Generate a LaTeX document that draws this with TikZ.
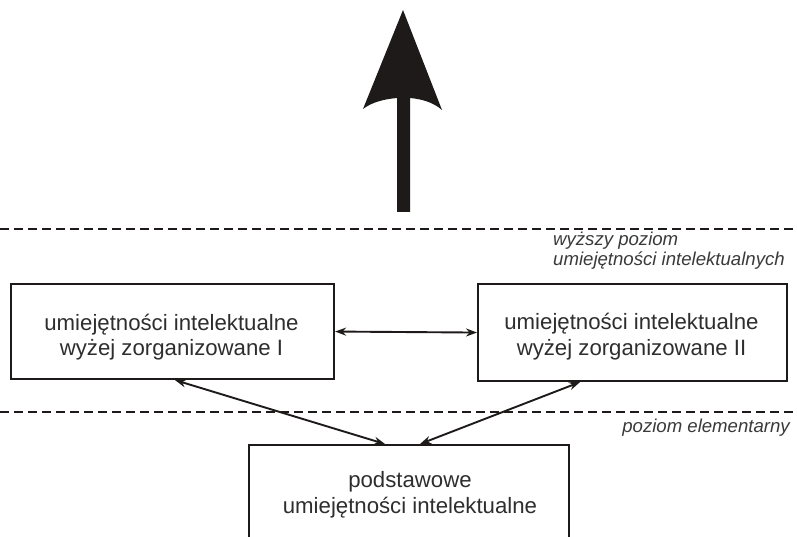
\documentclass[tikz,border=0pt]{standalone}
\usepackage{fontspec}
\setmainfont{Liberation Sans}
\usetikzlibrary{arrows.meta}
\definecolor{ink}{HTML}{1E1A1A}
\definecolor{txt}{HTML}{2E2E2E}
\definecolor{lbl}{HTML}{3A3A3A}
\tikzset{
  box/.style={draw=ink, line width=2.1pt, fill=white, inner sep=0pt,
    anchor=north west},
  boxline/.style={text=txt, font=\fontsize{22.2}{26}\selectfont,
    inner sep=0pt, anchor=base},
  level/.style={draw=ink, line width=2pt, dash pattern=on 9pt off 5pt},
  levellabel/.style={text=lbl, font=\itshape\fontsize{18.6}{21}\selectfont,
    inner sep=0pt},
  link/.style={draw=ink, line width=1.9pt,
    {Stealth[length=11pt,width=8pt]}-{Stealth[length=11pt,width=8pt]}},
}
\begin{document}
\begin{tikzpicture}[x=1pt,y=-1pt]
  \useasboundingbox (0,0) rectangle (797,537);
  \clip (0,0) rectangle (797,537);
  \fill[white] (0,0) rectangle (797,537);

  % upward arrow with a concave head
  \fill[ink] (397,212) -- (397,98)
    .. controls (385,99) and (372,102) .. (363,109)
    -- (403,10) -- (442,110)
    .. controls (433,102) and (421,99) .. (410,98)
    -- (410,212) -- cycle;

  % level boundaries
  \coordinate (l1a) at (0,229);   \coordinate (l1b) at (797,229);
  \coordinate (l2a) at (0,412);   \coordinate (l2b) at (797,412);
  \draw[level] (l1a) -- (l1b);
  \draw[level] (l2a) -- (l2b);

  \node[levellabel, anchor=base west] (hi1) at (553,245) {wyższy poziom};
  \node[levellabel, anchor=base west] (hi2) at (553,265.5)
    {umiejętności intelektualnych};
  \node[levellabel, anchor=base east] (lo) at (790,432) {poziom elementarny};

  % skill boxes
  \node[box, minimum width=323pt, minimum height=95pt] (b1) at (10,283) {};
  \node[boxline] (b1a) at (171.5,330) {umiejętności intelektualne};
  \node[boxline] (b1b) at (171.5,355.5) {wyżej zorganizowane I};

  \node[box, minimum width=309pt, minimum height=97pt] (b2) at (477,283) {};
  \node[boxline] (b2a) at (631.5,329.5) {umiejętności intelektualne};
  \node[boxline] (b2b) at (631.5,355.5) {wyżej zorganizowane II};

  \node[box, minimum width=320pt, minimum height=120pt] (b3) at (248,444) {};
  \node[boxline] (b3a) at (410,487) {podstawowe};
  \node[boxline] (b3b) at (410,513) {umiejętności intelektualne};

  % relations
  \draw[link] (b1.east) -- (b2.west);
  \draw[link] ([xshift=165pt]b1.south west) -- ([xshift=137pt]b3.north west);
  \draw[link] ([xshift=103pt]b2.south west) -- ([xshift=172pt]b3.north west);
\end{tikzpicture}
\end{document}
